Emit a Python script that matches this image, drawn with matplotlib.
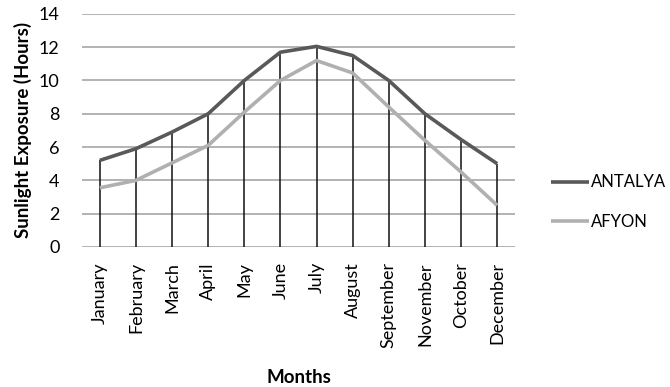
import numpy as np
import matplotlib.pyplot as plt

plt.rcParams['font.family'] = ['Lato', 'DejaVu Sans']

# Monthly sunlight exposure (hours)
months = ['January', 'February', 'March', 'April', 'May', 'June', 'July',
          'August', 'September', 'November', 'October', 'December']
antalya = [5.2, 5.9, 6.9, 8.0, 10.0, 11.7, 12.05, 11.5, 10.0, 8.0, 6.45, 5.0]
afyon = [3.55, 4.0, 5.05, 6.1, 8.1, 10.0, 11.2, 10.45, 8.4, 6.4, 4.5, 2.5]
y_ticks = [0, 2, 4, 6, 8, 10, 12, 14]

fig = plt.figure(figsize=(6.7, 3.87), dpi=100)
ax = fig.add_axes([0.122, 0.362, 0.647, 0.602])

x = np.arange(len(months))

# horizontal gridlines
for t in y_ticks:
    ax.axhline(t, color='#a6a6a6', lw=1.2, zorder=0)

# drop lines from the upper series down to the axis
top = np.maximum(antalya, afyon)
ax.vlines(x, 0, top, color='#111111', lw=1.1, zorder=2)

ax.plot(x, afyon, color='#b0b0b0', lw=2.6, solid_capstyle='butt', label='AFYON', zorder=3)
ax.plot(x, antalya, color='#595959', lw=2.6, solid_capstyle='butt', label='ANTALYA', zorder=4)

ax.set_xlim(-0.5, len(months) - 0.5)
ax.set_ylim(0, 14)
ax.set_yticks(y_ticks)
ax.set_xticks(x)
ax.set_xticklabels(months, rotation=90, fontsize=13)
ax.tick_params(axis='y', length=0, labelsize=13, pad=16)
ax.tick_params(axis='x', length=0, pad=11)
for s in ['top', 'right', 'left', 'bottom']:
    ax.spines[s].set_visible(False)

ax.set_ylabel('Sunlight Exposure (Hours)', fontsize=13.5, fontweight='bold', labelpad=5)
ax.set_xlabel('Months', fontsize=13.5, fontweight='bold', labelpad=15)

handles, labels = ax.get_legend_handles_labels()
fig.legend(handles[::-1], labels[::-1], loc='center left',
           bbox_to_anchor=(0.80, 0.478), frameon=False, fontsize=12,
           handlelength=2.3, handletextpad=0.12, labelspacing=1.4,
           borderpad=0.4)

fig.savefig('out.png', dpi=100)
